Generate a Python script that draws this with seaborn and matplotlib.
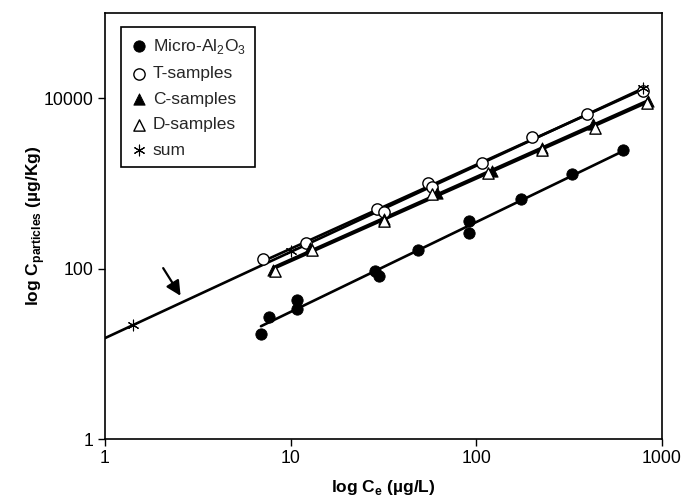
import numpy as np
import pandas as pd
import matplotlib
matplotlib.use("Agg")
import matplotlib.pyplot as plt
import seaborn as sns

sns.set_theme(style="white")
plt.rcParams['font.family'] = ['Liberation Sans', 'DejaVu Sans']
plt.rcParams['mathtext.fontset'] = 'custom'
plt.rcParams['mathtext.rm'] = 'Liberation Sans'
plt.rcParams['mathtext.bf'] = 'Liberation Sans:bold'

# ---- data ----
micro_x = [6.92, 7.67, 10.8, 10.8, 28.4, 30.0, 48.7, 91.6, 91.6, 175, 328, 618]
micro_y = [17.2, 27.0, 42.4, 33.6, 93, 82.7, 167, 360, 263, 649, 1277, 2466]

t_x = [7.1, 12.1, 29.0, 31.8, 55.0, 57.4, 107, 199, 393, 792]
t_y = [130, 201, 494, 460, 1019, 915, 1750, 3540, 6480, 12200]

c_x = [8.06, 12.7, 31.8, 61.1, 121, 225, 426, 843]
c_y = [97, 175, 377, 777, 1396, 2630, 4945, 9300]

d_x = [8.2, 12.96, 31.8, 57.4, 116, 225, 435, 826]
d_y = [93, 167, 360, 743, 1336, 2466, 4520, 8900]

sum_x = [1.41, 10.1, 790]
sum_y = [21.5, 160, 13000]

labels = ['Micro-Al$_\\mathregular{2}$O$_\\mathregular{3}$', 'T-samples',
          'C-samples', 'D-samples', 'sum']

def fit_line(x, y, x0=None):
    lx, ly = np.log10(x), np.log10(y)
    b, a = np.polyfit(lx, ly, 1)
    lo = min(x) if x0 is None else x0
    xs = np.logspace(np.log10(lo), np.log10(max(x)), 50)
    return xs, 10 ** (a + b * np.log10(xs))

fig = plt.figure(figsize=(6.85, 5.01), dpi=100)
ax = fig.add_axes([105/685, (501-439)/501, 557/685, 426/501])

# fitted lines
for xs_, ys_, x0 in [(micro_x, micro_y, None), (t_x, t_y, None), (c_x, c_y, None),
                     (d_x, d_y, None), (sum_x, sum_y, 1.0)]:
    fx, fy = fit_line(xs_, ys_, x0)
    sns.lineplot(x=fx, y=fy, ax=ax, color='black', lw=1.9, legend=False)

ms = 66
sns.scatterplot(x=micro_x, y=micro_y, ax=ax, marker='o', s=ms, color='black',
                edgecolor='black', label=labels[0], zorder=3)
sns.scatterplot(x=t_x, y=t_y, ax=ax, marker='o', s=ms, facecolor='white',
                edgecolor='black', linewidth=1, label=labels[1], zorder=3)
sns.scatterplot(x=c_x, y=c_y, ax=ax, marker='^', s=ms, color='black',
                edgecolor='black', label=labels[2], zorder=3)
sns.scatterplot(x=d_x, y=d_y, ax=ax, marker='^', s=ms, facecolor='white',
                edgecolor='black', linewidth=1, label=labels[3], zorder=3)
sns.scatterplot(x=sum_x, y=sum_y, ax=ax, marker=(6, 2, 0), s=60, color='black',
                linewidth=0.8, label=labels[4], zorder=4)

ax.set_xscale('log')
ax.set_yscale('log')
ax.set_xlim(1, 1000)
ax.set_ylim(1, 100000)
ax.set_xticks([1, 10, 100, 1000])
ax.set_xticklabels(['1', '10', '100', '1000'])
ax.set_yticks([1, 100, 10000])
ax.set_yticklabels(['1', '100', '10000'])
ax.minorticks_off()
ax.tick_params(axis='both', direction='out', length=5, width=1, color='black',
               labelsize=12.7, labelcolor='black', pad=3, bottom=True, left=True)
for sp in ax.spines.values():
    sp.set_color('black')
    sp.set_linewidth(1.2)

ax.set_xlabel('log C$_\\mathregular{e}$ (µg/L)', fontsize=12.5, fontweight='bold',
              color='black', labelpad=8)
ax.set_ylabel('log C$_\\mathregular{particles}$ (µg/Kg)', fontsize=12.5,
              fontweight='bold', color='black', labelpad=-2)

# arrow
ax.annotate('', xy=(2.6, 45), xytext=(2.02, 108),
            arrowprops=dict(arrowstyle='-|>', color='black', lw=1.6,
                            mutation_scale=22))

leg = ax.legend(loc='upper left', bbox_to_anchor=(15.7/557, 1 - 14/426),
                borderaxespad=0, frameon=True, fancybox=False, fontsize=12.5,
                handletextpad=0.3, handlelength=1.0, labelspacing=0.6,
                borderpad=0.55, edgecolor='black', framealpha=1)
leg.get_frame().set_linewidth(1.2)

fig.savefig('out.png', dpi=100)
